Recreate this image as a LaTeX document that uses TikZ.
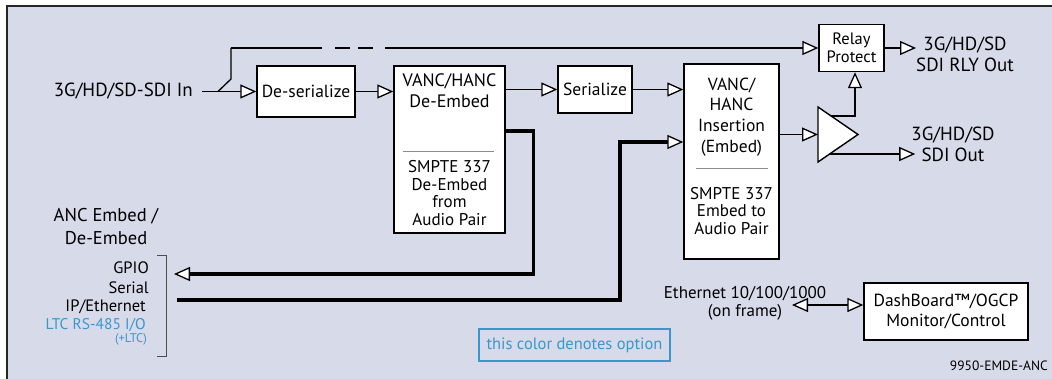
\documentclass[tikz,border=0pt]{standalone}
\usepackage{fontspec}
\setmainfont{PT Sans}
\usetikzlibrary{arrows.meta,positioning}

\definecolor{panel}{HTML}{D7DAE8}
\definecolor{optblue}{HTML}{3B96CC}
\definecolor{rulegray}{HTML}{8C8C8C}

\tikzset{
  blk/.style={draw, fill=white, line width=1.4pt, inner sep=0pt, align=center,
    font=\fontsize{17.5}{21}\selectfont},
  lbl/.style={inner sep=0pt, align=center, font=\fontsize{19}{21}\selectfont},
  small/.style={inner sep=0pt, font=\fontsize{16.5}{18}\selectfont},
  sig/.style={line width=1.3pt},
  heavy/.style={line width=3.3pt},
  >={Triangle[length=16pt,width=14pt,fill=white,line width=1.3pt]}
}

\begin{document}
\begin{tikzpicture}[x=1pt,y=-1pt]
  \clip (0,0) rectangle (1052,379);
  \fill[white] (0,0) rectangle (1052,379);
  \draw[line width=2pt, draw=black!85, fill=panel] (7,6) rectangle (1070,400);

  % blocks
  \node[blk, minimum width=98pt, minimum height=51pt] (deser) at (306,91.5) {De-serialize};
  \node[blk, minimum width=111pt, minimum height=167pt] (deemb) at (449.5,149.5) {};
  \node[blk, minimum width=74pt, minimum height=47pt] (ser) at (595,89.5) {Serialize};
  \node[blk, minimum width=95pt, minimum height=195pt] (ins) at (731.5,161.5) {};
  \node[blk, minimum width=65pt, minimum height=47pt, font=\fontsize{16.5}{17.5}\selectfont] (relay) at (851.5,48) {Relay\\Protect};
  \node[blk, minimum width=164pt, minimum height=57pt, font=\fontsize{17.5}{20}\selectfont] (dash) at (946,311.5) {DashBoard™/OGCP\\Monitor/Control};

  % block texts
  \node[lbl, font=\fontsize{18}{21}\selectfont] (deembA) at (449.5,91) {VANC/HANC\\De-Embed};
  \node[lbl, font=\fontsize{17}{17.7}\selectfont] (deembB) at (449.5,193) {SMPTE 337\\De-Embed\\from\\Audio Pair};
  \draw[rulegray, line width=1pt] (403,152) -- (494,152);
  \node[lbl, font=\fontsize{17.5}{20.7}\selectfont] (insA) at (731.5,117) {VANC/\\HANC\\Insertion\\(Embed)};
  \node[lbl, font=\fontsize{17}{17.5}\selectfont] (insB) at (731.5,211) {SMPTE 337\\Embed to\\Audio Pair};
  \draw[rulegray, line width=1pt] (696,169) -- (768,169);

  % amplifier
  \coordinate (amp) at (818,134.5);
  \draw[fill=white, line width=1.4pt] (818,107) -- (858,134.5) -- (818,162) -- cycle;
  \coordinate (ampT) at (831,116);
  \coordinate (ampB) at (829,154);

  % labels
  \node[lbl, anchor=east] (inlbl) at (193,91) {3G/HD/SD-SDI In};
  \node[lbl] (rlyout) at (965,54.5) {3G/HD/SD\\SDI RLY Out};
  \node[lbl] (sdiout) at (953,144) {3G/HD/SD\\SDI Out};
  \node[lbl, font=\fontsize{18.5}{23}\selectfont] (anc) at (106,227) {ANC Embed /\\De-Embed};
  \node[small, anchor=east] (gpio) at (149,268) {GPIO};
  \node[small, anchor=east] (serial) at (149,288) {Serial};
  \node[small, anchor=east] (ipeth) at (146,307) {IP/Ethernet};
  \node[small, anchor=east, text=optblue, font=\fontsize{15.5}{18}\selectfont] (ltc) at (146,325) {LTC RS-485 I/O};
  \node[inner sep=0pt, anchor=east, text=optblue, font=\fontsize{12.5}{14}\selectfont] (pltc) at (147,339) {(+LTC)};
  \draw[black!70, line width=1pt] (157,256) -- (166,256) -- (166,356) -- (157,356);
  \node[small, align=center, font=\fontsize{17}{18}\selectfont] (eth) at (745,303.5) {Ethernet 10/100/1000\\(on frame)};
  \node[small, draw=optblue, line width=2pt, text=optblue, minimum width=191pt, minimum height=32pt] (optkey) at (574.5,345) {this color denotes option};
  \node[inner sep=0pt, anchor=east, font=\fontsize{13.5}{16}\selectfont] (dwg) at (1048,366) {9950-EMDE-ANC};

  % signal path
  \coordinate (tap) at (218,91.5);
  \coordinate (bend) at (231,48);
  \draw[sig, ->] ([xshift=9pt]inlbl.east |- deser.west) -- (deser.west);
  \draw[sig] (tap) -- (231,79) -- (bend);
  \draw[sig, ->, dash pattern=on 91pt off 13pt on 15pt off 8pt on 15pt off 12pt on 600pt off 0pt] (bend) -- (relay.west);
  \draw[sig, ->] (deser.east) -- (deser.east -| deemb.west);
  \draw[sig, ->] (ser.west -| deemb.east) -- (ser.west);
  \draw[sig, ->] (ser.east) -- (ser.east -| ins.west);
  \draw[sig, ->] (ins.east |- amp) -- (amp);
  \draw[sig, ->] (ampT) -| ([xshift=3.5pt]relay.south);
  \draw[sig, ->] (ampB) -- ([xshift=4pt]sdiout.west |- ampB);
  \draw[sig, ->] (relay.east) -- (relay.east -| rlyout.west);

  % ancillary
  \coordinate (gpioIn) at (174,274);
  \coordinate (ipOut) at (177,300);
  \draw[heavy, ->] ([yshift=18.5pt]deemb.east) -- ++(28,0) |- (gpioIn);
  \draw[heavy, ->] (ipOut) -- ++(443,0) |- ([yshift=19.5pt]ins.west);

  % control
  \coordinate (ethEnd) at (792,305);
  \draw[sig, <->] (ethEnd) -- (ethEnd -| dash.west);
\end{tikzpicture}
\end{document}
